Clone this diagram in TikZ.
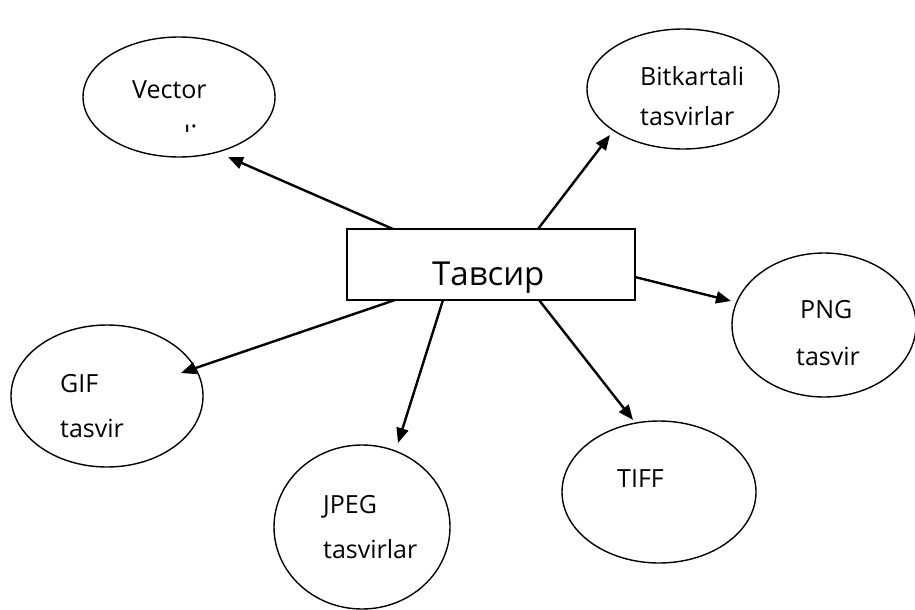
\documentclass[tikz,border=0pt]{standalone}
\usepackage{fontspec}
\setmainfont{Open Sans}
\usetikzlibrary{shapes.geometric,arrows.meta}
\tikzset{
  ell/.style={draw=black, ellipse, line width=1.4pt, inner sep=0pt},
  box/.style={draw=black, rectangle, line width=1.8pt, inner sep=0pt},
  lbl/.style={anchor=base west, inner sep=0pt, font=\fontsize{25}{30}\selectfont},
  arr/.style={line width=2.4pt, -{Triangle[length=15pt,width=12pt]}, shorten >=0pt}
}
\begin{document}
\begin{tikzpicture}[x=1pt,y=-1pt]
\useasboundingbox (0,0) rectangle (915,610);
% ellipses
\node[ell, minimum width=192pt, minimum height=120pt] (vec) at (179,97) {};
\node[ell, minimum width=192pt, minimum height=120pt] (bit) at (683,89) {};
\node[ell, minimum width=184pt, minimum height=144pt] (png) at (824,325) {};
\node[ell, minimum width=192pt, minimum height=142pt] (gif) at (107,396) {};
\node[ell, minimum width=194pt, minimum height=142pt] (tiff) at (659,492) {};
\node[ell, minimum width=176pt, minimum height=164pt] (jpeg) at (362,527) {};
% central box
\node[box, minimum width=288pt, minimum height=71pt] (c) at (491,264.5) {};
\node[anchor=base west, inner sep=0pt, font=\fontsize{33}{40}\selectfont] (ct) at (432,285) {Тавсир};
% labels
\node[lbl] (t1) at (132,98) {Vector};
\begin{scope}
  \clip (178,124) rectangle (204,131.5);
  \node[lbl] (t1b) at (184,138) {ı:};
\end{scope}
\node[lbl] (t2) at (640,85) {Bitkartali};
\node[lbl] (t3) at (640,125) {tasvirlar};
\node[lbl] (t4) at (800,318) {PNG};
\node[lbl] (t5) at (796,365) {tasvir};
\node[lbl] (t6) at (60,392) {GIF};
\node[lbl] (t7) at (60,437) {tasvir};
\node[lbl] (t8) at (617,487) {TIFF};
\node[lbl] (t9) at (323,513) {JPEG};
\node[lbl] (t10) at (323,558) {tasvirlar};
% arrow end points
\coordinate (s1) at (393,229);  \coordinate (e1) at (228,157);
\coordinate (s2) at (538,229);  \coordinate (e2) at (610,135);
\coordinate (s3) at (635,277);  \coordinate (e3) at (731,301);
\coordinate (s4) at (395,300);  \coordinate (e4) at (181,373);
\coordinate (s5) at (443,300);  \coordinate (e5) at (398,443);
\coordinate (s6) at (539,300);  \coordinate (e6) at (633,420);
\draw[arr] (s1) -- (e1);
\draw[arr] (s2) -- (e2);
\draw[arr] (s3) -- (e3);
\draw[arr] (s4) -- (e4);
\draw[arr] (s5) -- (e5);
\draw[arr] (s6) -- (e6);
\end{tikzpicture}
\end{document}
